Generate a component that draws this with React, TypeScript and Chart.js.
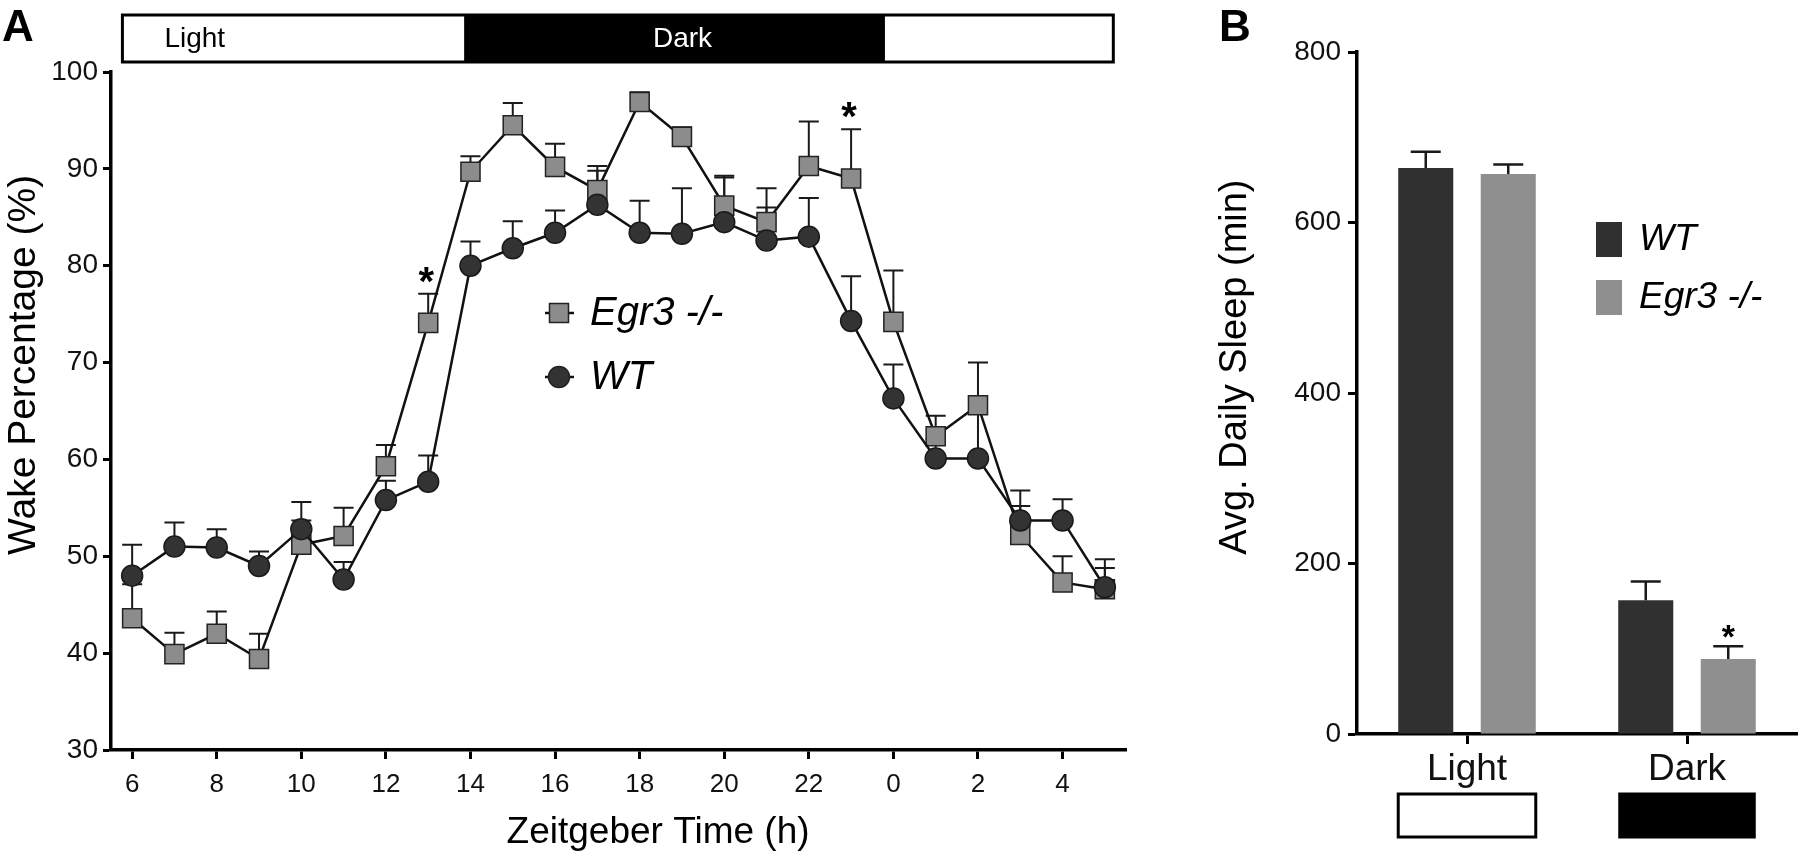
import React, { useEffect, useRef } from "react";
import { Chart, registerables } from "chart.js";

Chart.register(...registerables);

const FONT = '"Liberation Sans", Arial, Helvetica, sans-serif';

// ---------- Panel A data ----------
const ztHours = [6, 7, 8, 9, 10, 11, 12, 13, 14, 15, 16, 17, 18, 19, 20, 21, 22, 23, 0, 1, 2, 3, 4, 5];
const egr3Wake = [43.6, 39.9, 42.0, 39.4, 51.2, 52.1, 59.3, 74.1, 89.7, 94.5, 90.2, 87.8, 96.9, 93.3, 86.2, 84.5, 90.3, 89.0, 74.2, 62.4, 65.6, 52.2, 47.3, 46.6];
const egr3WakeSem = [3.5, 2.2, 2.3, 2.6, 2.5, 2.9, 2.2, 3.0, 1.6, 2.3, 2.4, 2.5, 1.0, 1.0, 2.9, 3.5, 4.6, 5.1, 5.3, 2.1, 4.4, 4.6, 2.7, 2.2];
const wtWake = [48.0, 51.0, 50.9, 49.0, 52.8, 47.6, 55.8, 57.7, 80.0, 81.8, 83.4, 86.3, 83.4, 83.3, 84.5, 82.6, 83.0, 74.3, 66.3, 60.1, 60.1, 53.7, 53.7, 46.8];
const wtWakeSem = [3.2, 2.5, 1.9, 1.5, 2.8, 1.8, 2.0, 2.7, 2.5, 2.8, 2.3, 3.5, 3.3, 4.7, 4.8, 3.4, 4.0, 4.6, 3.5, 2.0, 5.5, 1.5, 2.2, 2.9];
const egr3WakeSignificant = [13, 23];
const ztTickLabels = [6, 8, 10, 12, 14, 16, 18, 20, 22, 0, 2, 4];
const wakeTicks = [30, 40, 50, 60, 70, 80, 90, 100];
const seriesNames = ["Egr3 -/-", "WT"];
const phaseNames = ["Light", "Dark"];

// ---------- Panel B data ----------
const sleepPhases = ["Light", "Dark"];
const wtSleep = [664, 157];
const wtSleepSem = [19, 22];
const egr3Sleep = [657, 88];
const egr3SleepSem = [11, 15];
const egr3SleepSignificant = [false, true];
const sleepTicks = [0, 200, 400, 600, 800];

const toAxisHour = (h: number) => (h < 6 ? h + 24 : h);

const SQUARE_FILL = "#8c8c8c";
const CIRCLE_FILL = "#333333";
const WT_BAR = "#303030";
const EGR3_BAR = "#8f8f8f";

function drawAsterisk(ctx: CanvasRenderingContext2D, x: number, cy: number, size: number) {
  ctx.save();
  ctx.font = `bold ${size}px ${FONT}`;
  ctx.fillStyle = "#000";
  ctx.textAlign = "center";
  ctx.textBaseline = "alphabetic";
  ctx.fillText("*", x, cy + size * 0.55);
  ctx.restore();
}

function PanelA() {
  const ref = useRef<HTMLCanvasElement>(null);
  useEffect(() => {
    const canvas = ref.current!;
    const plugin = {
      id: "panelA",
      beforeDatasetsDraw(chart: any) {
        const ctx = chart.ctx;
        const yS = chart.scales.y;
        const sets: [number[], number[], number][] = [
          [wtWake, wtWakeSem, 0],
          [egr3Wake, egr3WakeSem, 1],
        ];
        ctx.save();
        ctx.strokeStyle = "#1a1a1a";
        ctx.lineWidth = 2;
        sets.forEach(([vals, sems, di]) => {
          const meta = chart.getDatasetMeta(di);
          meta.data.forEach((pt: any, i: number) => {
            const top = yS.getPixelForValue(vals[i] + sems[i]);
            ctx.beginPath();
            ctx.moveTo(pt.x, pt.y);
            ctx.lineTo(pt.x, top);
            ctx.moveTo(pt.x - 10, top);
            ctx.lineTo(pt.x + 10, top);
            ctx.stroke();
          });
        });
        ctx.restore();
      },
      afterDraw(chart: any) {
        const ctx: CanvasRenderingContext2D = chart.ctx;
        const xS = chart.scales.x;
        const yS = chart.scales.y;
        const area = chart.chartArea;
        ctx.save();
        // Light / Dark bar
        const bx0 = xS.getPixelForValue(5.77);
        const bx1 = xS.getPixelForValue(29.2);
        const d0 = xS.getPixelForValue(13.85);
        const d1 = xS.getPixelForValue(23.8);
        const by = 15;
        const bh = 47;
        ctx.fillStyle = "#fff";
        ctx.fillRect(bx0, by, bx1 - bx0, bh);
        ctx.fillStyle = "#000";
        ctx.fillRect(d0, by, d1 - d0, bh);
        ctx.lineWidth = 3;
        ctx.strokeStyle = "#000";
        ctx.strokeRect(bx0, by, bx1 - bx0, bh);
        ctx.font = `28px ${FONT}`;
        ctx.textBaseline = "middle";
        ctx.textAlign = "left";
        ctx.fillStyle = "#000";
        ctx.fillText(phaseNames[0], bx0 + 42, by + bh / 2 + 1);
        ctx.textAlign = "center";
        ctx.fillStyle = "#fff";
        ctx.fillText(phaseNames[1], (d0 + d1) / 2 + 8, by + bh / 2 + 1);

        // Panel letter
        ctx.fillStyle = "#000";
        ctx.textAlign = "left";
        ctx.textBaseline = "alphabetic";
        ctx.font = `bold 44px ${FONT}`;
        ctx.fillText("A", 2, 41);

        // Axis titles
        ctx.font = `39px ${FONT}`;
        ctx.textAlign = "center";
        ctx.textBaseline = "middle";
        ctx.save();
        ctx.translate(24, area.top + (area.bottom - area.top) * 0.432);
        ctx.rotate(-Math.PI / 2);
        ctx.fillText("Wake Percentage (%)", 0, 0);
        ctx.restore();
        ctx.font = `37px ${FONT}`;
        ctx.fillText("Zeitgeber Time (h)", area.left + (area.right - area.left) * 0.539, 833);

        // Legend
        const legendRows = [
          { name: seriesNames[0], y: 313, style: "rect" },
          { name: seriesNames[1], y: 377, style: "circle" },
        ];
        legendRows.forEach((r) => {
          ctx.strokeStyle = "#111";
          ctx.lineWidth = 2.5;
          ctx.beginPath();
          ctx.moveTo(545, r.y);
          ctx.lineTo(574, r.y);
          ctx.stroke();
          ctx.lineWidth = 1.5;
          ctx.strokeStyle = "#222";
          if (r.style === "rect") {
            ctx.fillStyle = SQUARE_FILL;
            ctx.fillRect(549.5, r.y - 9.5, 19, 19);
            ctx.strokeRect(549.5, r.y - 9.5, 19, 19);
          } else {
            ctx.fillStyle = CIRCLE_FILL;
            ctx.beginPath();
            ctx.arc(559, r.y, 10.5, 0, Math.PI * 2);
            ctx.fill();
            ctx.stroke();
          }
          ctx.fillStyle = "#000";
          ctx.font = `italic 40px ${FONT}`;
          ctx.textAlign = "left";
          ctx.textBaseline = "middle";
          ctx.fillText(r.name, 590, r.y + 1);
        });

        // Significance asterisks
        egr3WakeSignificant.forEach((h) => {
          const i = ztHours.indexOf(h);
          const px = xS.getPixelForValue(toAxisHour(h));
          const top = yS.getPixelForValue(egr3Wake[i] + egr3WakeSem[i]);
          drawAsterisk(ctx, px - 2, top - 21, 40);
        });
        ctx.restore();
      },
    };

    const chart = new Chart(canvas, {
      type: "line",
      data: {
        datasets: [
          {
            label: seriesNames[1],
            data: ztHours.map((h, i) => ({ x: toAxisHour(h), y: wtWake[i] })),
            borderColor: "#111",
            borderWidth: 2.5,
            pointStyle: "circle",
            pointRadius: 10.5,
            pointBackgroundColor: CIRCLE_FILL,
            pointBorderColor: "#1a1a1a",
            pointBorderWidth: 1.5,
            tension: 0,
          },
          {
            label: seriesNames[0],
            data: ztHours.map((h, i) => ({ x: toAxisHour(h), y: egr3Wake[i] })),
            borderColor: "#111",
            borderWidth: 2.5,
            pointStyle: "rect",
            pointRadius: 13.5,
            pointBackgroundColor: SQUARE_FILL,
            pointBorderColor: "#222",
            pointBorderWidth: 1.5,
            tension: 0,
          },
        ],
      },
      options: {
        responsive: false,
        animation: false,
        events: [],
        clip: false as any,
        layout: { padding: { top: 72, right: 24, left: 0, bottom: 0 } },
        plugins: { legend: { display: false }, tooltip: { enabled: false } },
        scales: {
          x: {
            type: "linear",
            min: 5.5,
            max: 29.5,
            afterBuildTicks: (scale: any) => {
              scale.ticks = ztTickLabels.map((v) => ({ value: toAxisHour(v) }));
            },
            afterFit: (scale: any) => {
              scale.height = 109;
            },
            ticks: {
              font: { size: 26, family: FONT },
              color: "#111",
              padding: 10,
              maxRotation: 0,
              autoSkip: false,
              callback: (v: any) => String(Number(v) % 24),
            },
            grid: {
              drawOnChartArea: false,
              drawTicks: true,
              tickLength: 9,
              tickWidth: 3,
              tickColor: "#000",
            },
            border: { display: true, color: "#000", width: 3.5 },
          },
          y: {
            type: "linear",
            min: 30,
            max: 100,
            afterBuildTicks: (scale: any) => {
              scale.ticks = wakeTicks.map((v) => ({ value: v }));
            },
            afterFit: (scale: any) => {
              scale.width = 111;
            },
            ticks: {
              font: { size: 28, family: FONT },
              color: "#111",
              padding: 5,
            },
            grid: {
              drawOnChartArea: false,
              drawTicks: true,
              tickLength: 8,
              tickWidth: 3,
              tickColor: "#000",
            },
            border: { display: true, color: "#000", width: 3.5 },
          },
        },
      },
      plugins: [plugin],
    } as any);
    return () => chart.destroy();
  }, []);
  return (
    <canvas
      ref={ref}
      width={1150}
      height={859}
      style={{ position: "absolute", left: 0, top: 0, width: 1150, height: 859 }}
    />
  );
}

function PanelB() {
  const ref = useRef<HTMLCanvasElement>(null);
  useEffect(() => {
    const canvas = ref.current!;
    const plugin = {
      id: "panelB",
      afterDatasetsDraw(chart: any) {
        const ctx: CanvasRenderingContext2D = chart.ctx;
        const yS = chart.scales.y;
        const sets: [number[], number[], number][] = [
          [wtSleep, wtSleepSem, 0],
          [egr3Sleep, egr3SleepSem, 1],
        ];
        ctx.save();
        ctx.strokeStyle = "#1a1a1a";
        ctx.lineWidth = 2.5;
        sets.forEach(([vals, sems, di]) => {
          const meta = chart.getDatasetMeta(di);
          meta.data.forEach((bar: any, i: number) => {
            const base = yS.getPixelForValue(vals[i]);
            const top = yS.getPixelForValue(vals[i] + sems[i]);
            ctx.beginPath();
            ctx.moveTo(bar.x, base);
            ctx.lineTo(bar.x, top);
            ctx.moveTo(bar.x - 15, top);
            ctx.lineTo(bar.x + 15, top);
            ctx.stroke();
          });
        });
        ctx.restore();
      },
      afterDraw(chart: any) {
        const ctx: CanvasRenderingContext2D = chart.ctx;
        const yS = chart.scales.y;
        const area = chart.chartArea;
        const m0 = chart.getDatasetMeta(0);
        const m1 = chart.getDatasetMeta(1);
        ctx.save();
        // Phase boxes under categories
        sleepPhases.forEach((_, i) => {
          const b0 = m0.data[i];
          const b1 = m1.data[i];
          const left = b0.x - b0.width / 2;
          const right = b1.x + b1.width / 2;
          const top = 794;
          const h = 43;
          if (i === 0) {
            ctx.fillStyle = "#fff";
            ctx.fillRect(left, top, right - left, h);
            ctx.lineWidth = 3;
            ctx.strokeStyle = "#000";
            ctx.strokeRect(left, top, right - left, h);
          } else {
            ctx.fillStyle = "#000";
            ctx.fillRect(left, top - 1.5, right - left, h + 3);
          }
        });

        // Panel letter
        ctx.fillStyle = "#000";
        ctx.textAlign = "left";
        ctx.textBaseline = "alphabetic";
        ctx.font = `bold 44px ${FONT}`;
        ctx.fillText("B", 79, 41);

        // Y title
        ctx.font = `38px ${FONT}`;
        ctx.textAlign = "center";
        ctx.textBaseline = "middle";
        ctx.save();
        ctx.translate(96, area.top + (area.bottom - area.top) * 0.462);
        ctx.rotate(-Math.PI / 2);
        ctx.fillText("Avg. Daily Sleep (min)", 0, 0);
        ctx.restore();

        // Legend
        const rows = [
          { name: "WT", color: WT_BAR, y: 222 },
          { name: "Egr3 -/-", color: EGR3_BAR, y: 280 },
        ];
        rows.forEach((r) => {
          ctx.fillStyle = r.color;
          ctx.fillRect(456, r.y, 26, 35);
          ctx.fillStyle = "#000";
          ctx.font = `italic 37px ${FONT}`;
          ctx.textAlign = "left";
          ctx.textBaseline = "middle";
          ctx.fillText(r.name, 499, r.y + 18);
        });

        // Asterisks
        egr3SleepSignificant.forEach((sig, i) => {
          if (!sig) return;
          const bar = m1.data[i];
          const top = yS.getPixelForValue(egr3Sleep[i] + egr3SleepSem[i]);
          drawAsterisk(ctx, bar.x, top - 17, 34);
        });
        ctx.restore();
      },
    };

    const chart = new Chart(canvas, {
      type: "bar",
      data: {
        labels: sleepPhases,
        datasets: [
          {
            label: "WT",
            data: wtSleep,
            backgroundColor: WT_BAR,
            borderWidth: 0,
            barPercentage: 0.667,
            categoryPercentage: 0.75,
          },
          {
            label: "Egr3 -/-",
            data: egr3Sleep,
            backgroundColor: EGR3_BAR,
            borderWidth: 0,
            barPercentage: 0.667,
            categoryPercentage: 0.75,
          },
        ],
      },
      options: {
        responsive: false,
        animation: false,
        events: [],
        layout: { padding: { top: 52, right: 3, left: 0, bottom: 0 } },
        plugins: { legend: { display: false }, tooltip: { enabled: false } },
        scales: {
          x: {
            type: "category",
            offset: true,
            afterFit: (scale: any) => {
              scale.height = 125;
            },
            ticks: {
              font: { size: 37, family: FONT },
              color: "#111",
              padding: 4,
              maxRotation: 0,
            },
            grid: {
              offset: false,
              drawOnChartArea: false,
              drawTicks: true,
              tickLength: 10,
              tickWidth: 3,
              tickColor: "#000",
            },
            border: { display: true, color: "#000", width: 3.5 },
          },
          y: {
            type: "linear",
            min: 0,
            max: 800,
            afterBuildTicks: (scale: any) => {
              scale.ticks = sleepTicks.map((v) => ({ value: v }));
            },
            afterFit: (scale: any) => {
              scale.width = 217;
            },
            ticks: {
              font: { size: 28, family: FONT },
              color: "#111",
              padding: 7,
            },
            grid: {
              drawOnChartArea: false,
              drawTicks: true,
              tickLength: 9,
              tickWidth: 3,
              tickColor: "#000",
            },
            border: { display: true, color: "#000", width: 3.5 },
          },
        },
      },
      plugins: [plugin],
    } as any);
    return () => chart.destroy();
  }, []);
  return (
    <canvas
      ref={ref}
      width={660}
      height={859}
      style={{ position: "absolute", left: 1140, top: 0, width: 660, height: 859 }}
    />
  );
}

export default function App() {
  return (
    <div
      style={{
        position: "absolute",
        left: 0,
        top: 0,
        width: 1800,
        height: 859,
        background: "#fff",
        overflow: "hidden",
      }}
    >
      <PanelA />
      <PanelB />
    </div>
  );
}
